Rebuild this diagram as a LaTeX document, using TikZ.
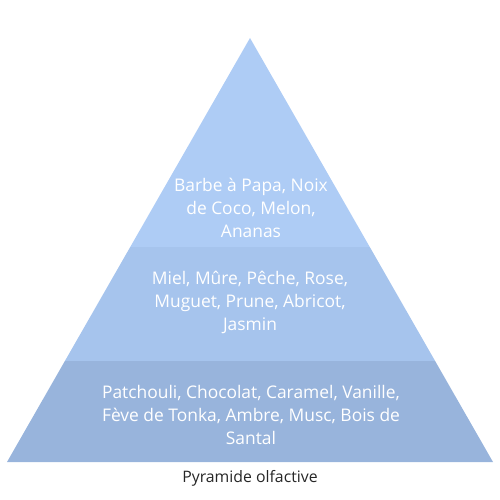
\documentclass[tikz,border=0pt]{standalone}
\usepackage{fontspec}
\setmainfont{Open Sans}
\usetikzlibrary{calc, positioning}
\definecolor{couche_t}{RGB}{174,204,245}
\definecolor{couche_m}{RGB}{166,196,237}
\definecolor{couche_b}{RGB}{152,180,220}
\tikzset{
  couche/.style = {draw=none},% tranche de la pyramide
  notes/.style = {align=center, inner sep=0pt, text=white,
    font=\fontsize{17.4}{23}\selectfont},% notes olfactives
  legende/.style = {inner sep=0pt, text=black!85,
    font=\fontsize{15.8}{18}\selectfont}% titre sous la pyramide
}
\begin{document}
\begin{tikzpicture}[x=1pt, y=-1pt]
\useasboundingbox (0,0) rectangle (500,500);
\coordinate (sommet) at (250,38);
\coordinate (bas_g) at (7,462);
\coordinate (bas_d) at (493,462);
\coordinate (t_g) at ($(sommet)!0.493!(bas_g)$);
\coordinate (t_d) at ($(sommet)!0.493!(bas_d)$);
\coordinate (m_g) at ($(sommet)!0.762!(bas_g)$);
\coordinate (m_d) at ($(sommet)!0.762!(bas_d)$);
\fill [couche, couche_t] (sommet) -- (t_d) -- (t_g) -- cycle;
\fill [couche, couche_m] (t_g) -- (t_d) -- (m_d) -- (m_g) -- cycle;
\fill [couche, couche_b] (m_g) -- (m_d) -- (bas_d) -- (bas_g) -- cycle;
\node [notes] (tete) at (251,208) {Barbe à Papa, Noix\\de Coco, Melon,\\Ananas};
\node [notes] (coeur) at (250,302) {Miel, Mûre, Pêche, Rose,\\Muguet, Prune, Abricot,\\Jasmin};
\node [notes] (fond) at (251,415) {Patchouli, Chocolat, Caramel, Vanille,\\Fève de Tonka, Ambre, Musc, Bois de\\Santal};
\node [legende, anchor=base] (titre) at (250,482) {Pyramide olfactive};
\end{tikzpicture}
\end{document}
